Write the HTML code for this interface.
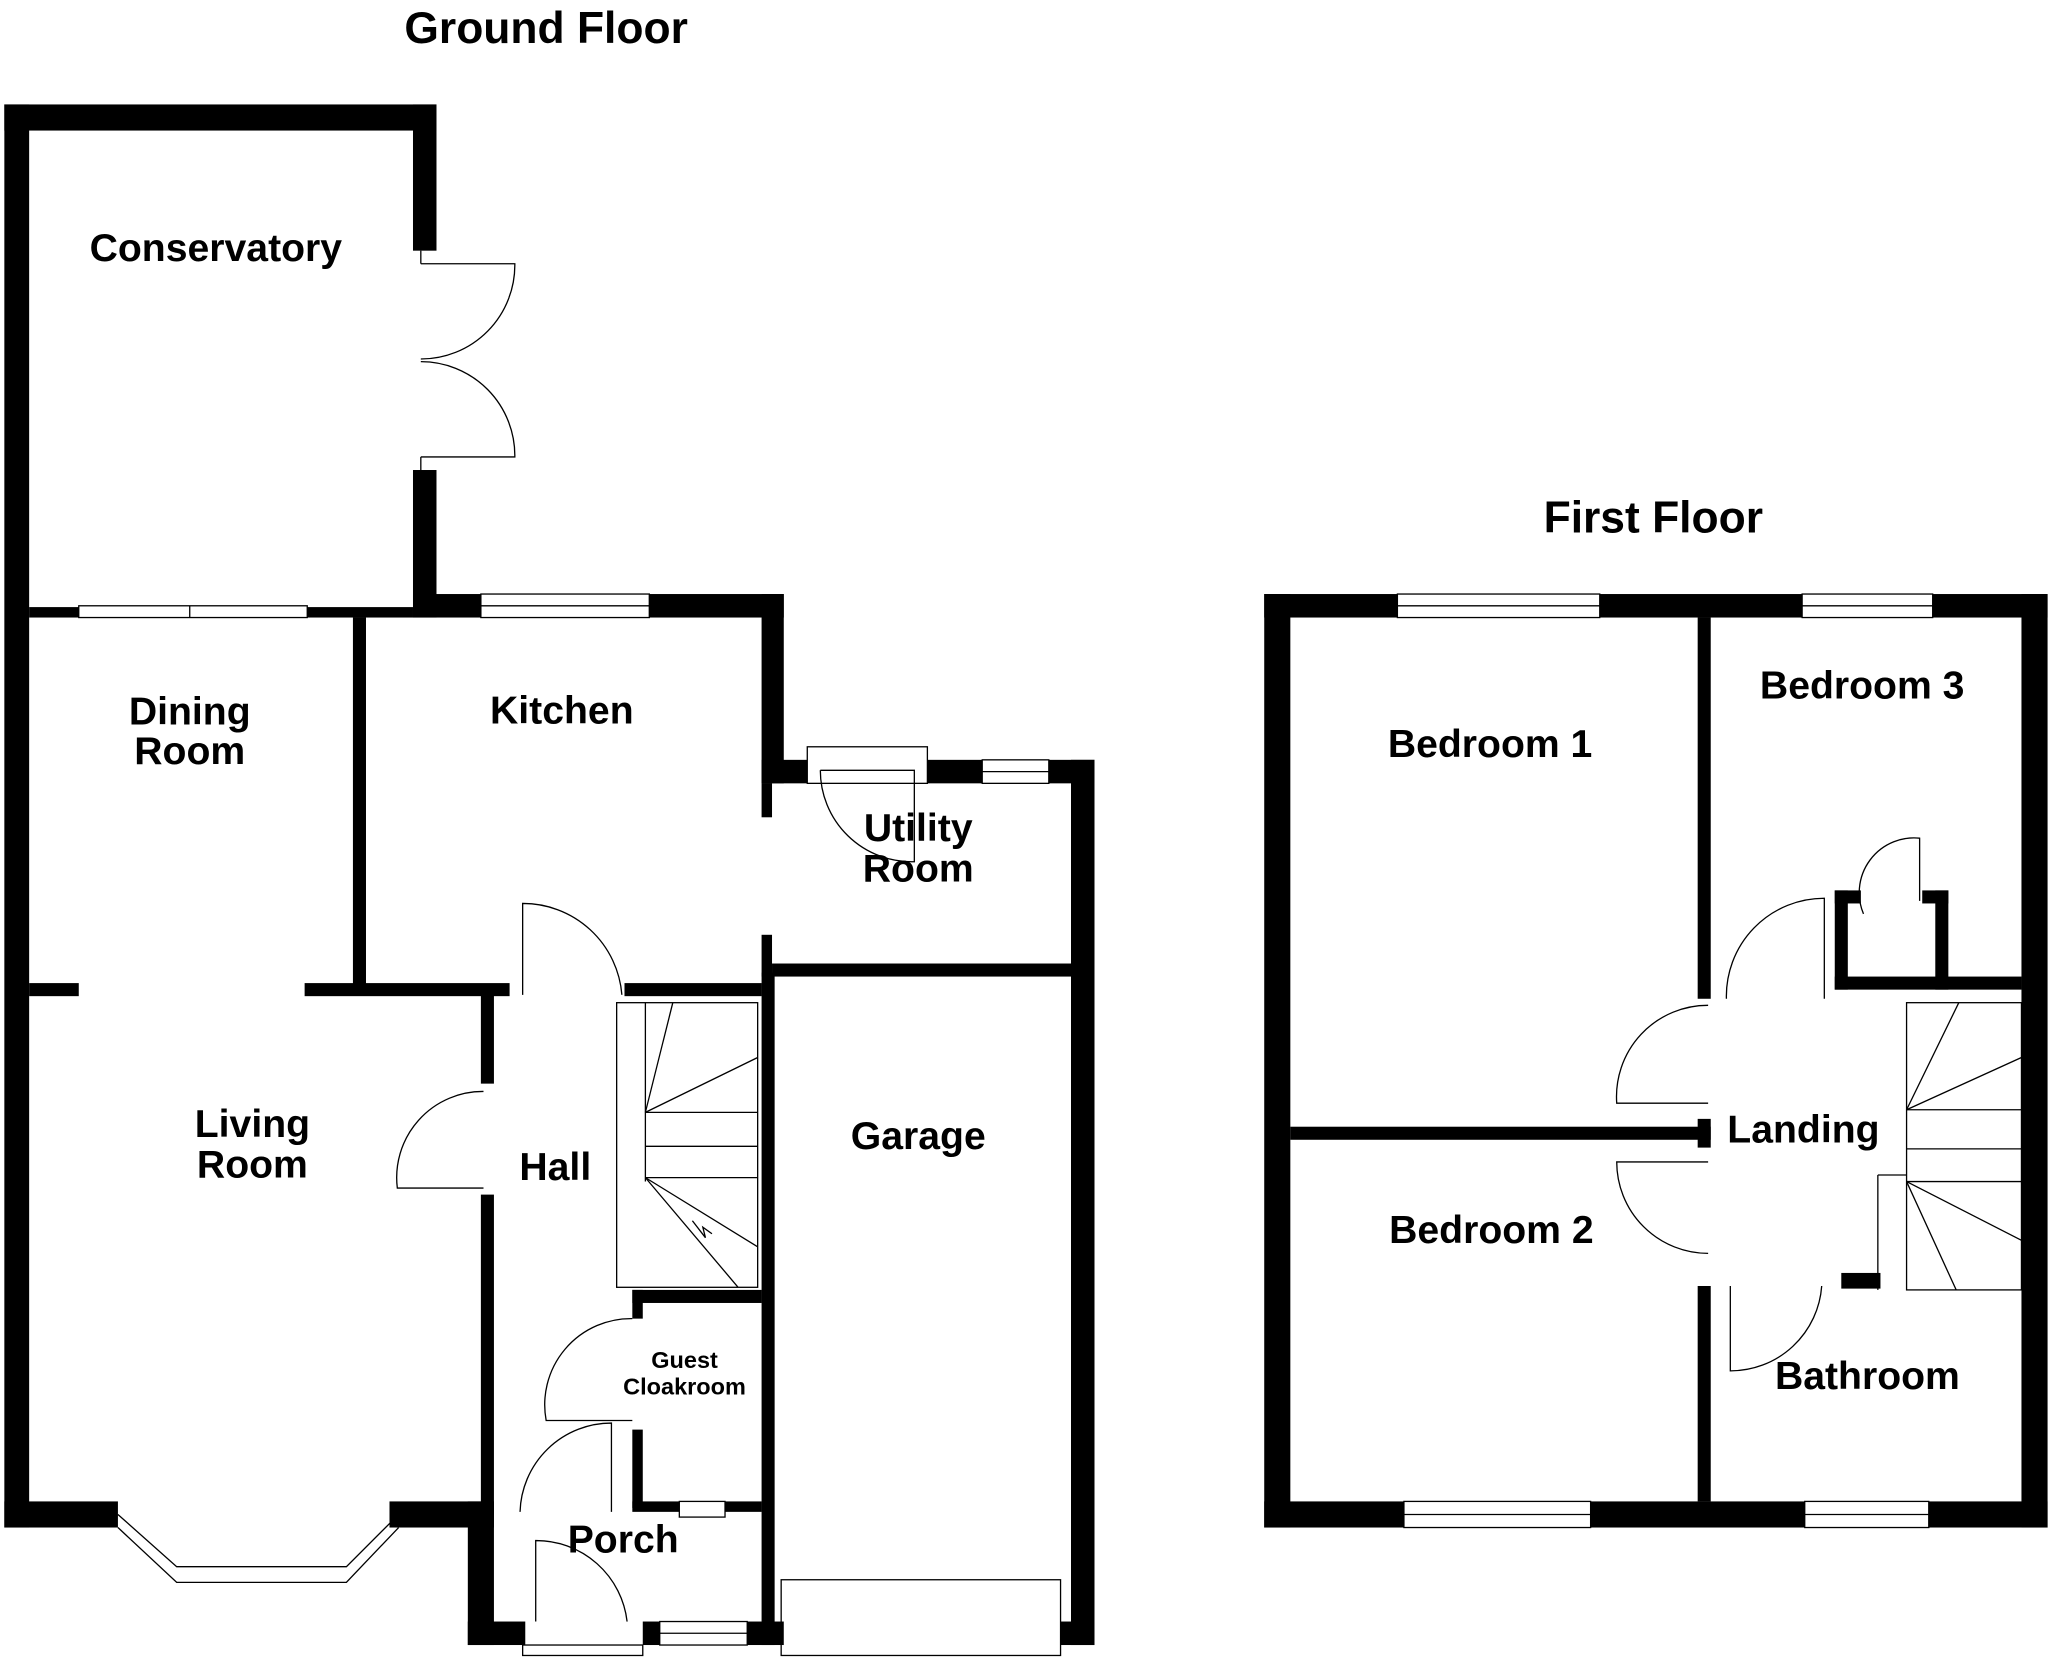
<!DOCTYPE html>
<html><head><meta charset="utf-8"><style>
html,body{margin:0;padding:0;background:#fff}
svg{display:block}
text{font-family:"Liberation Sans",sans-serif;font-weight:bold;fill:#000}
</style></head><body>
<svg width="2048" height="1662" viewBox="0 0 1568 1273" xmlns="http://www.w3.org/2000/svg">
<g fill="#000">
<rect x="3" y="80" width="331" height="20"/>
<rect x="3" y="80" width="19" height="1090"/>
<rect x="316" y="80" width="18" height="112"/>
<rect x="316" y="360" width="18" height="113"/>
<rect x="22" y="465" width="38" height="8"/>
<rect x="235" y="465" width="81" height="8"/>
<rect x="316" y="455" width="52" height="18"/>
<rect x="497" y="455" width="103" height="18"/>
<rect x="583" y="455" width="17" height="145"/>
<rect x="583" y="582" width="35" height="18"/>
<rect x="710" y="582" width="42" height="18"/>
<rect x="803" y="582" width="35" height="18"/>
<rect x="820" y="582" width="18" height="678"/>
<rect x="583" y="600" width="8" height="26"/>
<rect x="583" y="716" width="8" height="32"/>
<rect x="270" y="473" width="10" height="282"/>
<rect x="22" y="753" width="38" height="10"/>
<rect x="233" y="753" width="157" height="10"/>
<rect x="478" y="753" width="105" height="10"/>
<rect x="591" y="738" width="229" height="10"/>
<rect x="583" y="745" width="10" height="515"/>
<rect x="368" y="762" width="10" height="68"/>
<rect x="368" y="915" width="10" height="245"/>
<rect x="3" y="1150" width="87" height="20"/>
<rect x="298" y="1150" width="80" height="20"/>
<rect x="358" y="1150" width="20" height="110"/>
<rect x="358" y="1242" width="44" height="18"/>
<rect x="492" y="1242" width="13" height="18"/>
<rect x="572" y="1242" width="28" height="18"/>
<rect x="484" y="988" width="99" height="10"/>
<rect x="484" y="988" width="8" height="22"/>
<rect x="484" y="1095" width="8" height="60"/>
<rect x="484" y="1150" width="36" height="8"/>
<rect x="555" y="1150" width="28" height="8"/>
<rect x="812" y="1242" width="26" height="18"/>
<rect x="968" y="455" width="102" height="18"/>
<rect x="1225" y="455" width="155" height="18"/>
<rect x="1480" y="455" width="88" height="18"/>
<rect x="968" y="455" width="20" height="715"/>
<rect x="1548" y="455" width="20" height="715"/>
<rect x="968" y="1150" width="107" height="20"/>
<rect x="1218" y="1150" width="164" height="20"/>
<rect x="1477" y="1150" width="91" height="20"/>
<rect x="1300" y="473" width="10" height="292"/>
<rect x="988" y="863" width="322" height="10"/>
<rect x="1300" y="857" width="10" height="22"/>
<rect x="1300" y="985" width="10" height="165"/>
<rect x="1405" y="748" width="143" height="10"/>
<rect x="1405" y="682" width="10" height="76"/>
<rect x="1405" y="682" width="20" height="10"/>
<rect x="1482" y="682" width="10" height="76"/>
<rect x="1472" y="682" width="20" height="10"/>
<rect x="1410" y="975" width="30" height="12"/>
</g>
<g fill="none" stroke="#000" stroke-width="1">
<rect x="368" y="455" width="129" height="18"/><line x1="368" y1="464" x2="497" y2="464"/>
<rect x="60" y="464" width="175" height="9"/><line x1="145" y1="464" x2="145" y2="473"/>
<rect x="752" y="582" width="51" height="18"/><line x1="752" y1="591" x2="803" y2="591"/>
<rect x="618" y="572" width="92" height="28"/>
<rect x="505" y="1242" width="67" height="18"/><line x1="505" y1="1251" x2="572" y2="1251"/>
<rect x="520" y="1150" width="35" height="12"/>
<rect x="598" y="1210" width="214" height="58"/>
<rect x="1070" y="455" width="155" height="18"/><line x1="1070" y1="464" x2="1225" y2="464"/>
<rect x="1380" y="455" width="100" height="18"/><line x1="1380" y1="464" x2="1480" y2="464"/>
<rect x="1075" y="1150" width="143" height="20"/><line x1="1075" y1="1160" x2="1218" y2="1160"/>
<rect x="1382" y="1150" width="95" height="20"/><line x1="1382" y1="1160" x2="1477" y2="1160"/>
<polyline points="90,1160 135,1200 265,1200 305,1160"/>
<polyline points="90,1170 135,1212 265,1212 305,1170"/>
<line x1="322" y1="192" x2="322" y2="202"/><path d="M322,202 L394,202 A72,72 0 0 1 322,275"/>
<path d="M322,350 L394,350 A72,72 0 0 0 322,277"/><line x1="322" y1="350" x2="322" y2="360"/>
<path d="M628,590 L700,590 L700,660 A70,70 0 0 1 628,590"/>
<path d="M400,762 L400,692 A76,76 0 0 1 476,762"/>
<path d="M370,836 A66,66 0 0 0 304,910 L370,910"/>
<path d="M484,1010 A66,66 0 0 0 418,1088 L484,1088"/>
<path d="M398,1158 A70,70 0 0 1 468,1090 L468,1158"/>
<path d="M410,1242 L410,1180 A70,70 0 0 1 480,1242"/>
<rect x="400" y="1260" width="92" height="8"/>
<rect x="472" y="768" width="108" height="218"/>
<line x1="494" y1="768" x2="494" y2="905"/>
<line x1="494" y1="852" x2="515" y2="768"/>
<line x1="494" y1="852" x2="580" y2="810"/>
<line x1="494" y1="852" x2="580" y2="852"/>
<line x1="494" y1="878" x2="580" y2="878"/>
<line x1="494" y1="902" x2="580" y2="902"/>
<line x1="494" y1="902" x2="580" y2="955"/>
<line x1="494" y1="902" x2="565" y2="986"/>
<polyline points="530,935 540,948 538,940 545,945"/>
<path d="M1322,765 A75,75 0 0 1 1397,688 L1397,765"/>
<path d="M1308,770 A70,70 0 0 0 1238,845 L1308,845"/>
<path d="M1308,890 L1238,890 A70,70 0 0 0 1308,960"/>
<path d="M1427,700 A42,42 0 0 1 1470,642 L1470,690"/>
<path d="M1325,985 L1325,1050 A70,70 0 0 0 1395,985"/>
<rect x="1460" y="768" width="88" height="220"/>
<line x1="1438" y1="900" x2="1438" y2="988"/>
<line x1="1438" y1="900" x2="1460" y2="900"/>
<line x1="1460" y1="850" x2="1500" y2="768"/>
<line x1="1460" y1="850" x2="1548" y2="810"/>
<line x1="1460" y1="850" x2="1548" y2="850"/>
<line x1="1460" y1="880" x2="1548" y2="880"/>
<line x1="1460" y1="905" x2="1548" y2="905"/>
<line x1="1460" y1="905" x2="1548" y2="950"/>
<line x1="1460" y1="905" x2="1498" y2="988"/>
</g>
<g font-size="30">
<text x="418" y="33" text-anchor="middle" font-size="34">Ground Floor</text>
<text x="1266" y="408" text-anchor="middle" font-size="34">First Floor</text>
<text x="165" y="200" text-anchor="middle">Conservatory</text>
<text x="145" y="555" text-anchor="middle">Dining</text>
<text x="145" y="585" text-anchor="middle">Room</text>
<text x="430" y="554" text-anchor="middle">Kitchen</text>
<text x="703" y="644" text-anchor="middle">Utility</text>
<text x="703" y="675" text-anchor="middle">Room</text>
<text x="193" y="871" text-anchor="middle">Living</text>
<text x="193" y="902" text-anchor="middle">Room</text>
<text x="425" y="904" text-anchor="middle">Hall</text>
<text x="703" y="880" text-anchor="middle">Garage</text>
<text x="524" y="1048" text-anchor="middle" font-size="18">Guest</text>
<text x="524" y="1068" text-anchor="middle" font-size="18">Cloakroom</text>
<text x="477" y="1189" text-anchor="middle">Porch</text>
<text x="1141" y="580" text-anchor="middle">Bedroom 1</text>
<text x="1426" y="535" text-anchor="middle">Bedroom 3</text>
<text x="1381" y="875" text-anchor="middle">Landing</text>
<text x="1142" y="952" text-anchor="middle">Bedroom 2</text>
<text x="1430" y="1064" text-anchor="middle">Bathroom</text>
</g>
</svg>
</body></html>
